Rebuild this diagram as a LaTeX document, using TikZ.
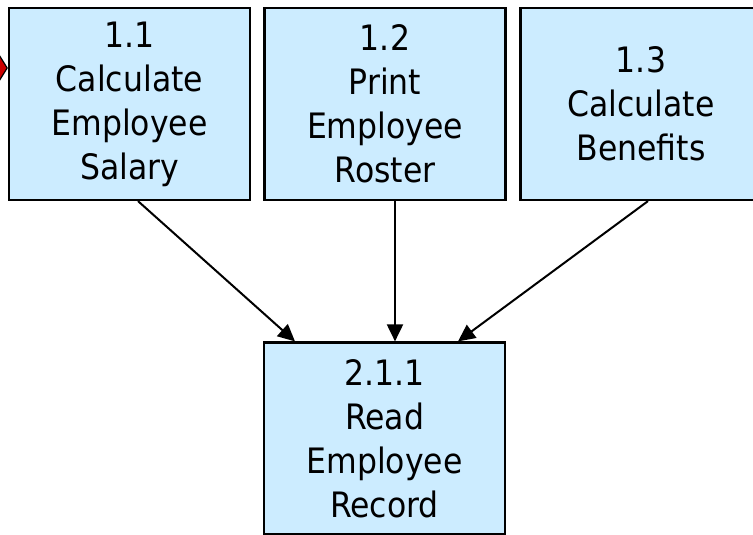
\documentclass[tikz,border=0pt]{standalone}
\usepackage{fontspec}
\setmainfont{DejaVu Sans Condensed}
\usetikzlibrary{arrows.meta,calc}
\definecolor{procfill}{RGB}{204,236,255}
\definecolor{tipred}{RGB}{204,0,0}
\tikzset{
  proc/.style={draw=black, line width=2.2pt, fill=procfill,
    minimum width=241pt, minimum height=192pt, inner sep=0pt,
    align=center, font=\fontsize{35}{44}\selectfont},
  flow/.style={draw=black, line width=2pt,
    -{Triangle[length=17pt,width=16pt]}},
  redtip/.style={draw=black, line width=1.2pt,
    -{Triangle[length=20pt,width=64pt,fill=tipred]}}
}
\begin{document}
\begin{tikzpicture}[x=1pt,y=-1pt]
\useasboundingbox (0,0) rectangle (753,535);
% process boxes
\node[proc] (b11) at (129.5,104) {1.1\\Calculate\\Employee\\Salary};
\node[proc] (b12) at (385,104) {1.2\\Print\\Employee\\Roster};
\node[proc] (b13) at (641,104) {1.3\\Calculate\\Benefits};
\node[proc] (b211) at (384.5,438.5) {2.1.1\\Read\\Employee\\Record};
% incoming flow from the left
\coordinate (src) at (-60,68);
\draw[redtip] (src) -- (b11.west |- src);
% flows into 2.1.1
\draw[flow] ($(b11.south)+(8.5,0)$) -- ($(b211.north)+(-89.5,0)$);
\draw[flow] ($(b12.south)+(10,0)$) -- ($(b211.north)+(10.5,0)$);
\draw[flow] ($(b13.south)+(7,0)$) -- ($(b211.north)+(73.5,0)$);
\end{tikzpicture}
\end{document}
